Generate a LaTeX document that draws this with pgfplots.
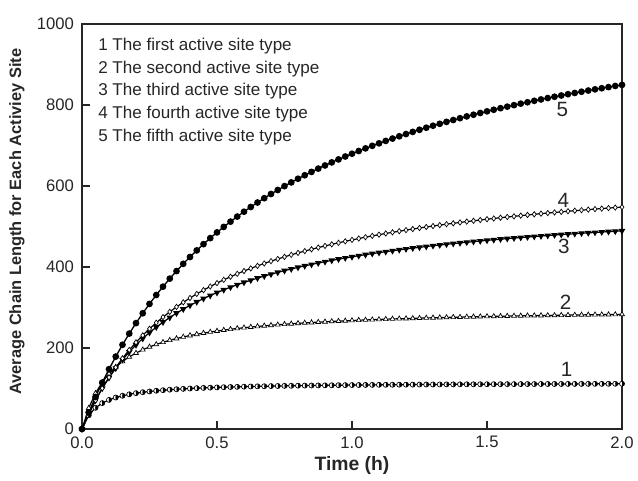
\documentclass[border=0pt]{standalone}
\usepackage{fontspec}
\setmainfont{Liberation Sans}
\usepackage{pgfplots}
\usepackage{pgfplotstable}
\pgfplotsset{compat=1.18}
\usetikzlibrary{plotmarks}

\pgfplotstableread{
t c1 c2 c3 c4 c5
0 0 0 0 0 0
0.025 33.8 51.7 37.9 37.2 40.9
0.05 52.3 88.2 71.1 70.5 79.0
0.075 63.9 115.4 100.5 100.5 114.5
0.1 71.9 136.4 126.6 127.5 147.7
0.125 77.7 153.1 150.0 152.1 178.8
0.15 82.1 166.7 171.1 174.5 208.0
0.175 85.6 178.0 190.2 195.0 235.5
0.2 88.5 187.5 207.6 213.9 261.4
0.225 90.8 195.7 223.4 231.3 285.8
0.25 92.7 202.7 238.0 247.4 308.9
0.275 94.4 208.9 251.4 262.3 330.8
0.3 95.8 214.3 263.8 276.3 351.5
0.325 97.1 219.1 275.3 289.2 371.2
0.35 98.2 223.4 286.0 301.4 389.9
0.375 99.1 227.3 295.9 312.7 407.8
0.4 100.0 230.8 305.2 323.4 424.7
0.425 100.8 233.9 313.8 333.5 441.0
0.45 101.5 236.8 322.0 342.9 456.4
0.475 102.1 239.5 329.6 351.9 471.3
0.5 102.7 241.9 336.8 360.3 485.4
0.525 103.2 244.2 343.6 368.3 499.0
0.55 103.7 246.3 350.1 375.9 512.0
0.575 104.1 248.2 356.1 383.1 524.5
0.6 104.5 250.0 361.9 390.0 536.5
0.625 104.9 251.7 367.3 396.5 548.1
0.65 105.3 253.2 372.5 402.8 559.2
0.675 105.6 254.7 377.5 408.7 569.9
0.7 105.9 256.1 382.2 414.4 580.2
0.725 106.2 257.4 386.7 419.8 590.1
0.75 106.5 258.6 391.0 425.0 599.7
0.775 106.7 259.8 395.0 430.0 608.9
0.8 107.0 260.9 399.0 434.8 617.9
0.825 107.2 261.9 402.7 439.3 626.5
0.85 107.4 262.9 406.3 443.7 634.8
0.875 107.6 263.8 409.8 448.0 642.9
0.9 107.8 264.7 413.1 452.0 650.7
0.925 108.0 265.6 416.3 456.0 658.3
0.95 108.2 266.4 419.3 459.7 665.6
0.975 108.3 267.1 422.3 463.4 672.8
1.0 108.5 267.9 425.1 466.9 679.7
1.025 108.6 268.6 427.8 470.3 686.4
1.05 108.8 269.2 430.5 473.6 692.9
1.075 108.9 269.9 433.0 476.7 699.2
1.1 109.1 270.5 435.5 479.8 705.3
1.125 109.2 271.1 437.8 482.8 711.3
1.15 109.3 271.7 440.1 485.6 717.1
1.175 109.4 272.2 442.4 488.4 722.7
1.2 109.5 272.7 444.5 491.1 728.2
1.225 109.6 273.2 446.6 493.7 733.6
1.25 109.7 273.7 448.6 496.3 738.8
1.275 109.8 274.2 450.6 498.7 743.9
1.3 109.9 274.6 452.5 501.1 748.8
1.325 110.0 275.1 454.3 503.4 753.6
1.35 110.1 275.5 456.1 505.7 758.3
1.375 110.2 275.9 457.8 507.9 762.9
1.4 110.3 276.3 459.5 510.0 767.4
1.425 110.4 276.7 461.1 512.1 771.8
1.45 110.4 277.1 462.7 514.1 776.0
1.475 110.5 277.4 464.3 516.1 780.2
1.5 110.6 277.8 465.8 518.0 784.3
1.525 110.6 278.1 467.2 519.8 788.2
1.55 110.7 278.4 468.7 521.7 792.1
1.575 110.8 278.8 470.1 523.4 795.9
1.6 110.8 279.1 471.4 525.1 799.6
1.625 110.9 279.4 472.7 526.8 803.3
1.65 111.0 279.7 474.0 528.5 806.8
1.675 111.0 279.9 475.3 530.1 810.3
1.7 111.1 280.2 476.5 531.7 813.7
1.725 111.1 280.5 477.7 533.2 817.1
1.75 111.2 280.7 478.9 534.7 820.3
1.775 111.2 281.0 480.0 536.1 823.5
1.8 111.3 281.3 481.1 537.6 826.7
1.825 111.3 281.5 482.2 539.0 829.7
1.85 111.4 281.7 483.3 540.3 832.8
1.875 111.4 282.0 484.3 541.7 835.7
1.9 111.5 282.2 485.3 543.0 838.6
1.925 111.5 282.4 486.3 544.2 841.4
1.95 111.6 282.6 487.3 545.5 844.2
1.975 111.6 282.8 488.2 546.7 847.0
2.0 111.7 283.0 489.2 547.9 849.6
}\datatable

\begin{document}
\begin{tikzpicture}
\useasboundingbox (-61.5pt,-39pt) rectangle (417pt,321.75pt);
\begin{axis}[
  at={(0,0)}, anchor=south west,
  scale only axis,
  width=405pt, height=303.75pt,
  xmin=0, xmax=2, ymin=0, ymax=1000,
  xtick={0,0.5,1,1.5,2},
  xticklabels={0.0,0.5,1.0,1.5,2.0},
  ytick={0,200,400,600,800,1000},
  yticklabels={0,200,400,600,800,1000},
  xtick pos=bottom, ytick pos=left,
  tick align=inside,
  major tick length=6pt,
  minor tick num=0,
  axis line style={line width=1pt, black!85},
  tick style={line width=0.8pt, black!85},
  ticklabel style={font=\fontsize{12.5}{15}\selectfont, text=black!85},
  yticklabel style={xshift=-2.5pt},
  xticklabel style={yshift=-2pt},
  xlabel={Time (h)},
  ylabel={Average Chain Length for Each Activiey Site},
  every axis x label/.style={at={(axis description cs:0.5,-0.0889)}, anchor=center, font=\bfseries\fontsize{14.5}{16}\selectfont, text=black!85},
  every axis y label/.style={at={(axis description cs:-0.1204,0.512)}, anchor=center, rotate=90, font=\bfseries\fontsize{12.3}{14}\selectfont, text=black!85},
  clip=false,
]
\addplot[line width=0.9pt, black, mark=halfcircle*, mark repeat=1,
  mark options={solid, fill=white, mark color=black, rotate=90, line width=0.5pt}, mark size=1.9pt]
  table[x=t, y=c1] {\datatable};
\addplot[line width=0.9pt, black, mark=triangle*, mark options={solid, fill=white, line width=0.5pt}, mark size=2.1pt]
  table[x=t, y=c2] {\datatable};
\addplot[line width=0.9pt, black, mark=triangle*, mark options={solid, fill=black, rotate=180}, mark size=2pt]
  table[x=t, y=c3] {\datatable};
\addplot[line width=0.9pt, black, mark=diamond*, mark options={solid, fill=white, line width=0.5pt}, mark size=2pt]
  table[x=t, y=c4] {\datatable};
\addplot[line width=1pt, black, mark=*, mark options={solid, fill=black}, mark size=2pt]
  table[x=t, y=c5] {\datatable};

\node[anchor=north west, align=left, inner sep=0pt, text=black!85,
  font=\fontsize{12.8}{17}\selectfont]
  at (axis description cs:0.0296,0.966)
  {1 The first active site type\\
   2 The second active site type\\
   3 The third active site type\\
   4 The fourth active site type\\
   5 The fifth active site type};

\begin{scope}[every node/.style={font=\fontsize{15.5}{17}\selectfont, text=black!85}]
\node at (axis cs:1.779,788) {5};
\node at (axis cs:1.783,565) {4};
\node at (axis cs:1.785,450) {3};
\node at (axis cs:1.791,314) {2};
\node at (axis cs:1.795,146) {1};
\end{scope}
\end{axis}
\end{tikzpicture}
\end{document}
